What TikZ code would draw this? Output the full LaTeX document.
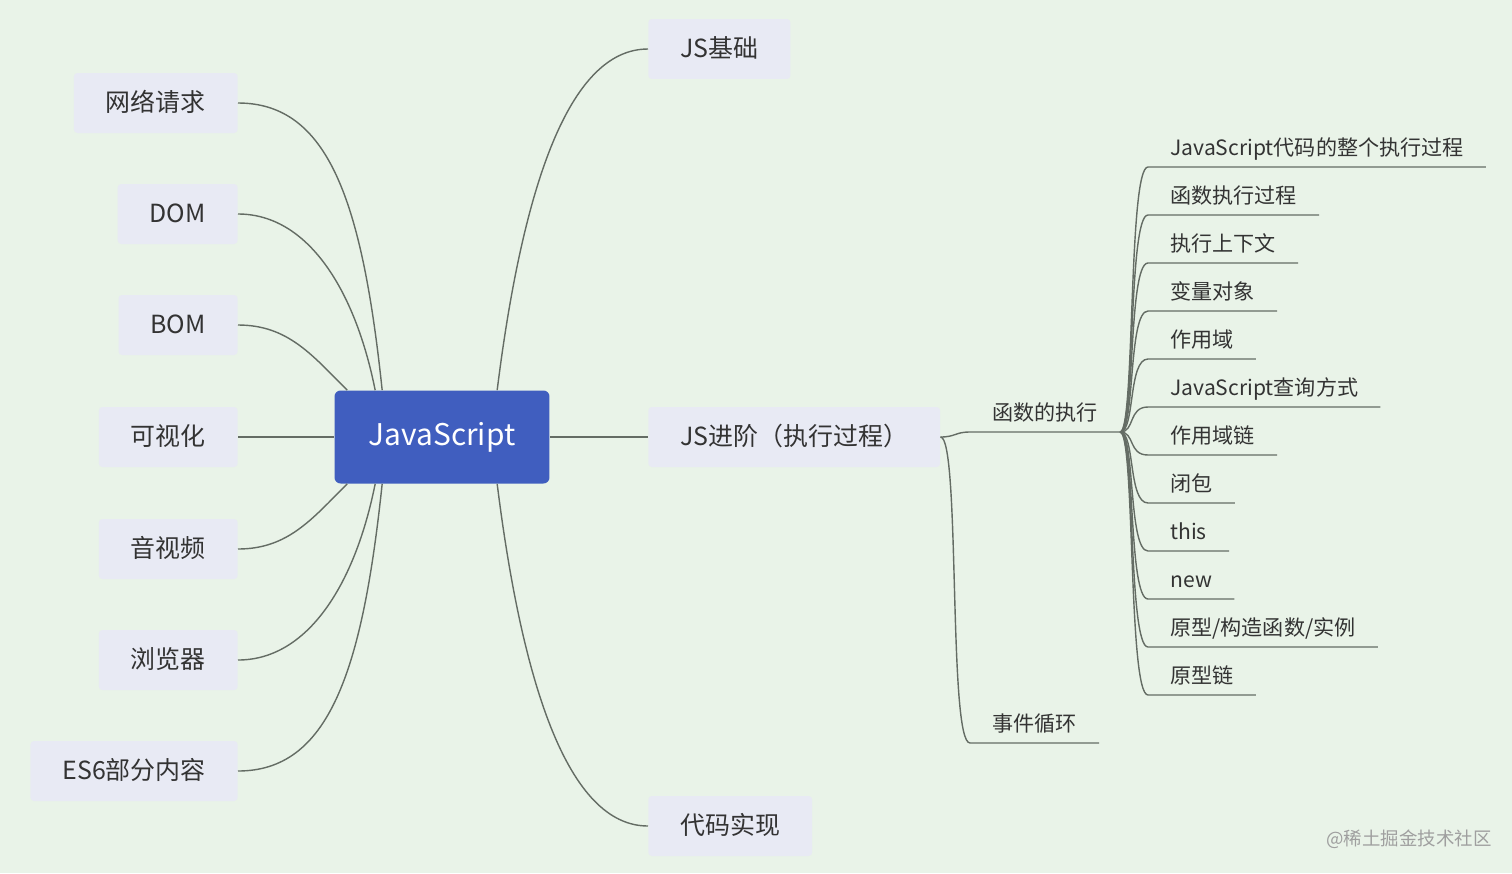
\documentclass[tikz,border=0pt]{standalone}
\usepackage{fontspec}
\setmainfont{Noto Sans CJK SC}
\usetikzlibrary{calc}
\definecolor{bgcol}{RGB}{233,243,232}
\definecolor{topicfill}{RGB}{232,234,244}
\definecolor{rootfill}{RGB}{64,94,191}
\definecolor{linecol}{RGB}{100,108,100}
\definecolor{textcol}{RGB}{51,51,51}
\tikzset{
  root/.style={fill=rootfill, rounded corners=0.12cm, minimum width=4.3cm, minimum height=1.86cm,
    text=white, font=\fontsize{17}{20}\selectfont},
  topic/.style={fill=topicfill, rounded corners=2pt, inner xsep=0.64cm, minimum height=1.2cm,
    text height=12.5pt, text depth=2.5pt, text=textcol, font=\fontsize{14.2}{17}\selectfont},
  sub/.style={anchor=south west, inner xsep=0.44cm, inner ysep=0pt, minimum height=0.76cm,
    text height=10.5pt, text depth=1.8pt, text=textcol, font=\fontsize{12}{14}\selectfont},
  conn/.style={draw=linecol, line width=0.8pt},
}

\begin{document}
\begin{tikzpicture}[x=0.02cm, y=-0.02cm]
    \fill[bgcol] (0,0) rectangle (1512,873);
    \useasboundingbox (0,0) rectangle (1512,873);

    % centre
    \node[root] (js) at (442,437) {JavaScript};

    % left topics
    \node[topic, anchor=east] (n1) at (238,103) {网络请求};
    \node[topic, anchor=east] (n2) at (238,214) {DOM};
    \node[topic, anchor=east] (n3) at (238,325) {BOM};
    \node[topic, anchor=east] (n4) at (238,437) {可视化};
    \node[topic, anchor=east] (n5) at (238,549) {音视频};
    \node[topic, anchor=east] (n6) at (238,660) {浏览器};
    \node[topic, anchor=east] (n7) at (238,771) {ES6部分内容};

    % right topics
    \node[topic, anchor=west] (basics) at (648,49) {JS基础};
    \node[topic, anchor=west] (adv) at (648,437) {JS进阶（执行过程）};
    \node[topic, anchor=west] (code) at (648,826) {代码实现};

    % second level
    \node[sub] (fn) at (970,432) {函数的执行};
    \node[sub] (ev) at (970,743) {事件循环};

    \node[sub] (l1) at (1148,167) {JavaScript代码的整个执行过程};
    \node[sub] (l2) at (1148,215) {函数执行过程};
    \node[sub] (l3) at (1148,263) {执行上下文};
    \node[sub] (l4) at (1148,311) {变量对象};
    \node[sub] (l5) at (1148,359) {作用域};
    \node[sub] (l6) at (1148,407) {JavaScript查询方式};
    \node[sub] (l7) at (1148,455) {作用域链};
    \node[sub] (l8) at (1148,503) {闭包};
    \node[sub] (l9) at (1148,551) {this};
    \node[sub] (l10) at (1148,599) {new};
    \node[sub] (l11) at (1148,647) {原型/构造函数/实例};
    \node[sub] (l12) at (1148,695) {原型链};

    \node[text=gray!75, font=\fontsize{10.5}{12}\selectfont] (wm) at (1409,839) {@稀土掘金技术社区};

    % connectors, left side
    \draw[conn] (n1.east) .. controls +(90,0) and +(-20,-190) .. ($(js.north west)+(48,0)$);
    \draw[conn] (n2.east) .. controls +(70,0) and +(-20,-100) .. ($(js.north west)+(41,0)$);
    \draw[conn] (n3.east) .. controls +(50,0) and +(-35,-35) .. ($(js.north west)+(13,0)$);
    \draw[conn] (n4.east) -- (js.west);
    \draw[conn] (n5.east) .. controls +(50,0) and +(-35,35) .. ($(js.south west)+(13,0)$);
    \draw[conn] (n6.east) .. controls +(70,0) and +(-20,100) .. ($(js.south west)+(41,0)$);
    \draw[conn] (n7.east) .. controls +(90,0) and +(-20,190) .. ($(js.south west)+(48,0)$);

    % connectors, right side
    \draw[conn] (basics.west) .. controls +(-80,0) and +(25,-200) .. ($(js.north west)+(163,0)$);
    \draw[conn] (js.east) -- (adv.west);
    \draw[conn] (code.west) .. controls +(-80,0) and +(25,200) .. ($(js.south west)+(163,0)$);

    \draw[conn] (adv.east) .. controls +(15,0) and +(-15,0) .. (fn.south west) -- (fn.south east);
    \draw[conn] (adv.east) .. controls +(20,0) and +(-22,0) .. (ev.south west) -- (ev.south east);
    \foreach \n in {l1,l2,l3,l4,l5,l6,l7,l8,l9,l10,l11,l12}
      \draw[conn] (fn.south east) .. controls +(15,0) and +(-20,0) .. (\n.south west) -- (\n.south east);
\end{tikzpicture}
\end{document}
